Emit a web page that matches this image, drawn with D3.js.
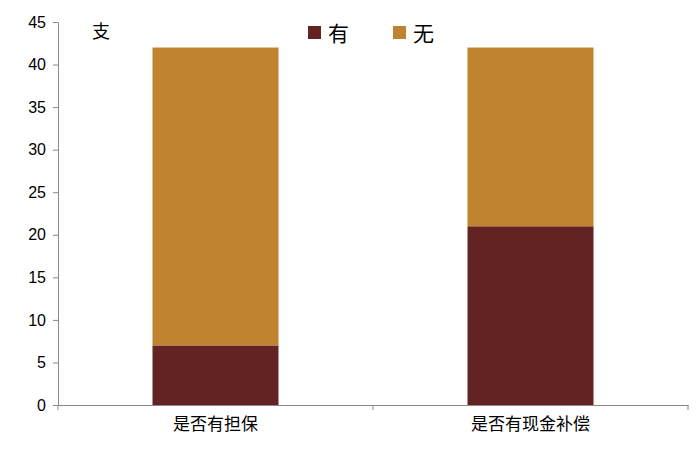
<!DOCTYPE html>
<html><head><meta charset="utf-8">
<script src="https://cdn.jsdelivr.net/npm/d3@7"></script>
<style>body{margin:0;background:#fff}</style></head>
<body><svg id="c" width="700" height="452"></svg>
<script>
const categories = ["是否有担保", "是否有现金补偿"];
const seriesNames = ["有", "无"];
const valuesYes = [7, 21];
const valuesNo = [35, 21];
const colors = ["#642323", "#C0832F"];
const yTicks = [0,5,10,15,20,25,30,35,40,45];

const svg = d3.select("#c");
const font = "'Noto Sans CJK SC', Arial, sans-serif";
const x = d3.scaleBand().domain(categories).range([58, 688]).paddingInner(0).paddingOuter(0);
const y = d3.scaleLinear().domain([0, 45]).range([405, 22]);

const data = categories.map((c,i)=>({c, yes: valuesYes[i], no: valuesNo[i]}));
const stack = d3.stack().keys(["yes","no"])(data);
const bw = x.bandwidth()*0.4;
stack.forEach((s,k)=>{
  svg.selectAll(null).data(s).enter().append("rect")
    .attr("x", d=>x(d.data.c)+(x.bandwidth()-bw)/2)
    .attr("width", bw)
    .attr("y", d=>y(d[1]))
    .attr("height", d=>y(d[0])-y(d[1]))
    .attr("fill", colors[k]);
});

const ya = svg.append("g").attr("transform","translate(58,0)")
  .call(d3.axisLeft(y).tickValues(yTicks).tickSize(5).tickSizeOuter(0));
ya.selectAll("text").attr("font-size",16).attr("font-family","Arial, sans-serif").attr("fill","#000").attr("dx","-4");
ya.selectAll("line,path").attr("stroke","#888");

const xa = svg.append("g").attr("transform","translate(0,405)")
  .call(d3.axisBottom(x).tickSize(0).tickSizeOuter(0));
xa.selectAll("text").attr("font-size",17).attr("font-family",font).attr("fill","#000").attr("dy","1.3em");
xa.select("path").attr("stroke","#888");
[58, 373, 688].forEach(px=>xa.append("line").attr("x1",px).attr("x2",px).attr("y1",0).attr("y2",5).attr("stroke","#888"));

svg.append("text").attr("x",92).attr("y",38).attr("font-size",18).attr("font-family",font).text("支");

const lx = [308, 393];
seriesNames.forEach((n,i)=>{
  svg.append("rect").attr("x",lx[i]).attr("y",26).attr("width",13).attr("height",13).attr("fill",colors[i]);
  svg.append("text").attr("x",lx[i]+20).attr("y",41).attr("font-size",21).attr("font-family",font).text(n);
});
</script></body></html>
